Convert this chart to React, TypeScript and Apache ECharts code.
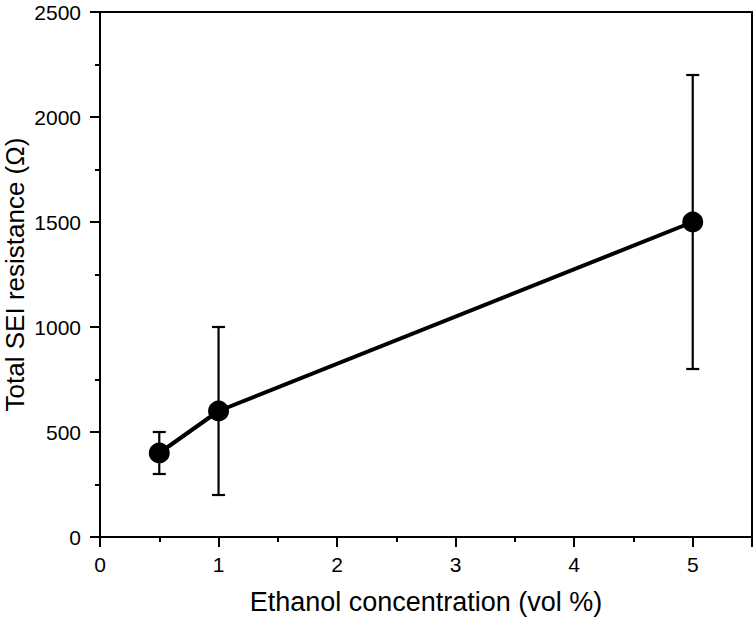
import React, { useEffect, useRef } from "react";
import * as echarts from "echarts";

const concentrations = [0.5, 1, 5];
const resistance = [400, 600, 1500];
const errLow = [300, 200, 800];
const errHigh = [500, 1000, 2200];
const xTicks = [0, 1, 2, 3, 4, 5];
const yTicks = [0, 500, 1000, 1500, 2000, 2500];

export default function App() {
  const ref = useRef<HTMLDivElement>(null);
  useEffect(() => {
    if (!ref.current) return;
    const chart = echarts.init(ref.current, null, { renderer: "svg" });
    const font = "'Liberation Sans', Arial, sans-serif";
    const lineData = concentrations.map((c, i) => [c, resistance[i]]);
    const errData = concentrations.map((c, i) => [c, errLow[i], errHigh[i]]);
    chart.setOption({
      animation: false,
      backgroundColor: "#ffffff",
      grid: {
        left: 100,
        right: 4,
        top: 12,
        bottom: 85,
        containLabel: false,
        outerBoundsMode: "none",
        show: true,
        borderColor: "#000",
        borderWidth: 2,
        backgroundColor: "transparent",
      },
      xAxis: {
        type: "value",
        min: 0,
        max: 5.5,
        interval: 1,
        name: "Ethanol concentration (vol %)",
        nameLocation: "middle",
        nameGap: 51,
        nameMoveOverlap: false,
        nameTextStyle: { fontFamily: font, fontSize: 27, color: "#000" },
        axisLine: { show: true, onZero: false, lineStyle: { color: "#000", width: 2 } },
        axisTick: { show: true, inside: false, length: 10, lineStyle: { color: "#000", width: 2 } },
        minorTick: { show: true, splitNumber: 2, length: 5, lineStyle: { color: "#000", width: 2 } },
        axisLabel: {
          fontFamily: font,
          fontSize: 21,
          color: "#000",
          margin: 17,
          formatter: (v: number) => (xTicks.includes(v) ? String(v) : ""),
        },
        splitLine: { show: false },
      },
      yAxis: {
        type: "value",
        min: 0,
        max: 2500,
        interval: 500,
        name: "Total SEI resistance (Ω)",
        nameLocation: "middle",
        nameGap: 71,
        nameMoveOverlap: false,
        nameTextStyle: { fontFamily: font, fontSize: 26, color: "#000", lineHeight: 28 },
        axisLine: { show: true, onZero: false, lineStyle: { color: "#000", width: 2 } },
        axisTick: { show: true, inside: false, length: 10, lineStyle: { color: "#000", width: 2 } },
        minorTick: { show: true, splitNumber: 2, length: 5, lineStyle: { color: "#000", width: 2 } },
        axisLabel: {
          fontFamily: font,
          fontSize: 21,
          color: "#000",
          margin: 19,
          formatter: (v: number) => (yTicks.includes(v) ? String(v) : ""),
        },
        splitLine: { show: false },
      },
      series: [
        {
          type: "custom",
          z: 1,
          data: errData,
          renderItem: (params: any, api: any) => {
            const x = api.value(0);
            const lo = api.coord([x, api.value(1)]);
            const hi = api.coord([x, api.value(2)]);
            const cap = 6.5;
            const style = { stroke: "#000", lineWidth: 2.2, fill: "none" };
            return {
              type: "group",
              children: [
                { type: "line", shape: { x1: lo[0], y1: lo[1], x2: hi[0], y2: hi[1] }, style },
                { type: "line", shape: { x1: lo[0] - cap, y1: lo[1], x2: lo[0] + cap, y2: lo[1] }, style },
                { type: "line", shape: { x1: hi[0] - cap, y1: hi[1], x2: hi[0] + cap, y2: hi[1] }, style },
              ],
            };
          },
        },
        {
          type: "line",
          z: 2,
          data: lineData,
          symbol: "circle",
          symbolSize: 21,
          lineStyle: { color: "#000", width: 4 },
          itemStyle: { color: "#000" },
        },
      ],
    });
    return () => chart.dispose();
  }, []);
  return (
    <div
      ref={ref}
      style={{ position: "fixed", left: 0, top: 0, width: 756, height: 622, background: "#fff" }}
    />
  );
}
